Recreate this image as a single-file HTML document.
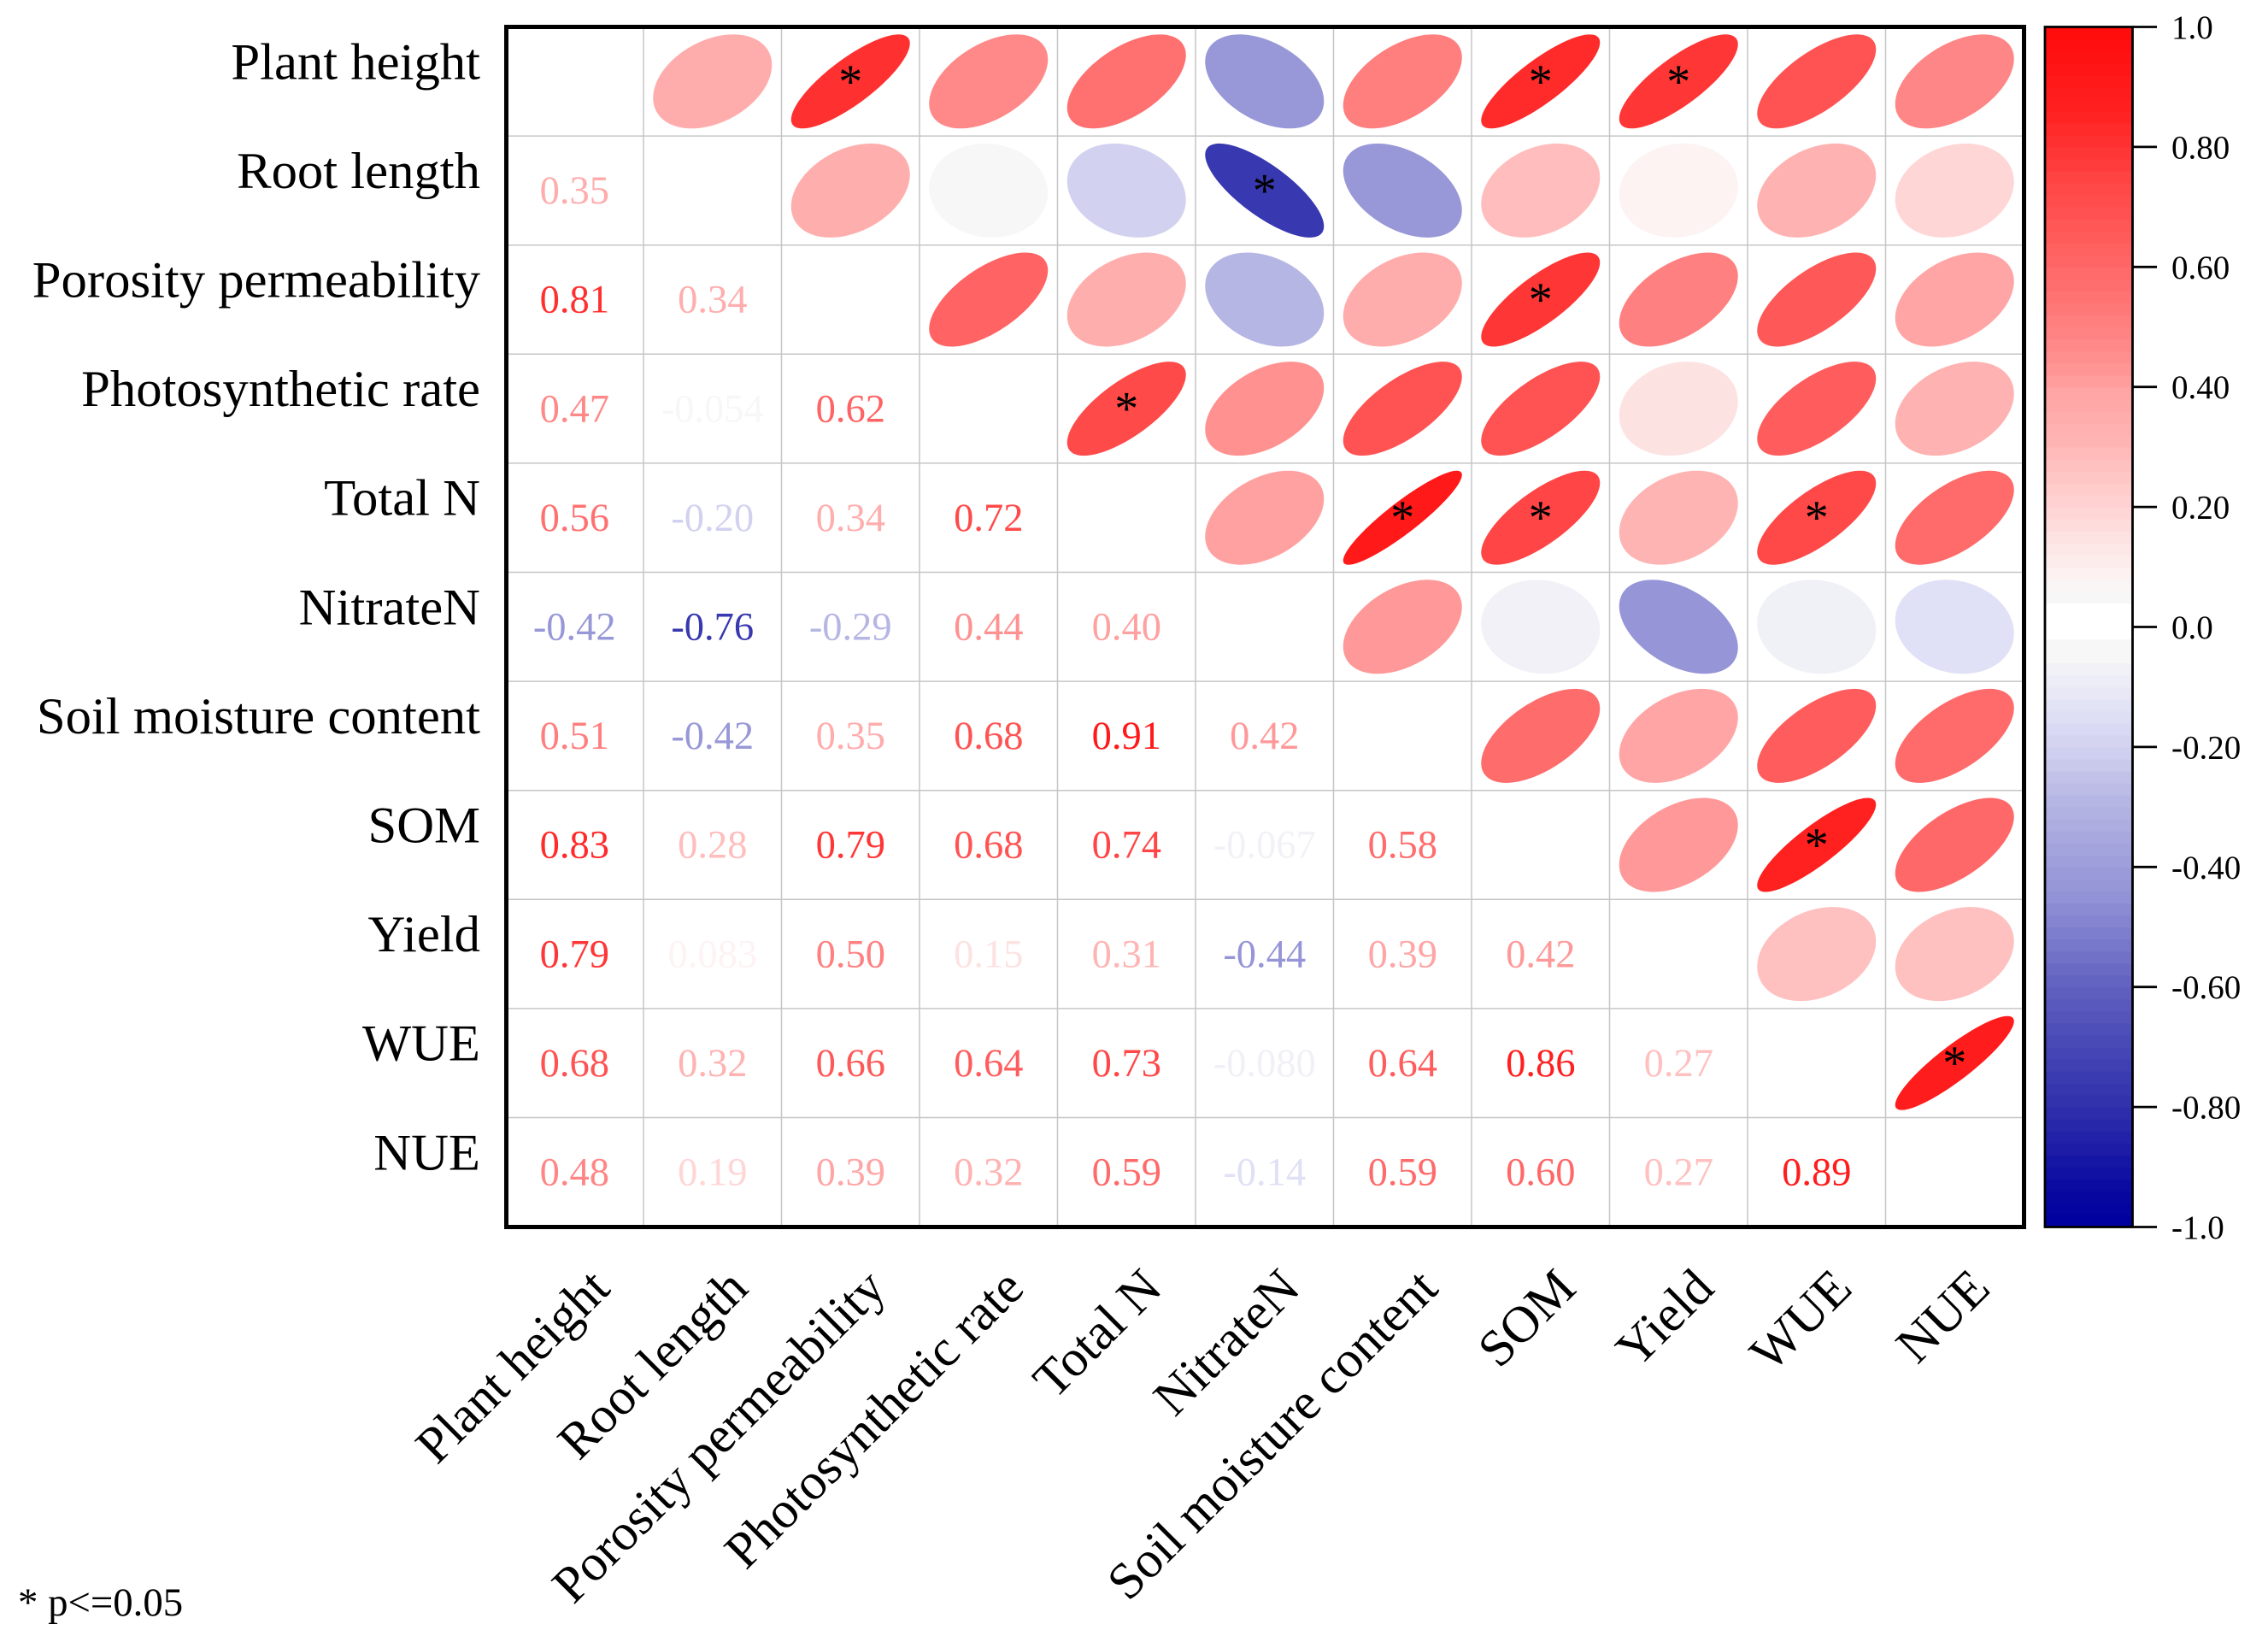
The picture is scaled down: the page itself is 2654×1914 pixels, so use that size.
<!DOCTYPE html>
<html lang="en">
<head>
<meta charset="utf-8">
<title>Correlation matrix</title>
<style>
html,body{margin:0;padding:0;background:#fff;}
svg{display:block;}
text{font-family:"Liberation Serif","Times New Roman",serif;}
</style>
</head>
<body>
<svg id="chart" xmlns="http://www.w3.org/2000/svg" width="2654" height="1914" viewBox="0 0 2654 1914">
  <rect x="0" y="0" width="2654" height="1914" fill="#ffffff"/>
  <g id="grid"></g>
  <g id="marks"></g>
  <rect id="frame" x="592.5" y="31.5" width="1776" height="1404" fill="none" stroke="#000" stroke-width="5"/>
  <g id="yLabels"></g>
  <g id="xLabels"></g>
  <g id="colorbar"></g>
  <text x="21" y="1890" font-size="46.8" fill="#000">* p&lt;=0.05</text>
</svg>
<script>
const categories = ["Plant height","Root length","Porosity permeability","Photosynthetic rate","Total N","NitrateN","Soil moisture content","SOM","Yield","WUE","NUE"];

const corrPlantHeight = [];
const corrRootLength = [0.35];
const corrPorosity = [0.81,0.34];
const corrPhotosynthetic = [0.47,-0.054,0.62];
const corrTotalN = [0.56,-0.20,0.34,0.72];
const corrNitrateN = [-0.42,-0.76,-0.29,0.44,0.40];
const corrSoilMoisture = [0.51,-0.42,0.35,0.68,0.91,0.42];
const corrSOM = [0.83,0.28,0.79,0.68,0.74,-0.067,0.58];
const corrYield = [0.79,0.083,0.50,0.15,0.31,-0.44,0.39,0.42];
const corrWUE = [0.68,0.32,0.66,0.64,0.73,-0.080,0.64,0.86,0.27];
const corrNUE = [0.48,0.19,0.39,0.32,0.59,-0.14,0.59,0.60,0.27,0.89];

// category index pairs (row, column) flagged p<=0.05
const significantPairs = [[0,2],[0,7],[0,8],[1,5],[2,7],[3,4],[4,6],[4,7],[4,9],[7,9],[9,10]];

const colorbarTickValues = [1,0.8,0.6,0.4,0.2,0,-0.2,-0.4,-0.6,-0.8,-1];
const colorbarTickLabels = ["1.0","0.80","0.60","0.40","0.20","0.0","-0.20","-0.40","-0.60","-0.80","-1.0"];

const correlationRows = [corrPlantHeight,corrRootLength,corrPorosity,corrPhotosynthetic,corrTotalN,corrNitrateN,corrSoilMoisture,corrSOM,corrYield,corrWUE,corrNUE];

const SVGNS = "http://www.w3.org/2000/svg";
function make(parent, tag, attrs, txt){
  const el = document.createElementNS(SVGNS, tag);
  for(const k in attrs){ el.setAttribute(k, attrs[k]); }
  if(txt !== undefined){ el.textContent = txt; }
  parent.appendChild(el);
  return el;
}
function slug(s){ return s.toLowerCase().replace(/[^a-z0-9]+/g,'-'); }

/* axis functions */
const X0 = 591.5, CW = 161.5, Y0 = 31.5, CH = 127.6;
const xEdge = i => X0 + CW*i;
const yEdge = j => Y0 + CH*j;
const xCenter = i => xEdge(i + 0.5);
const yCenter = j => yEdge(j + 0.5);
const CB_TOP = 31.5, CB_BOTTOM = 1435.5;
const cbY = v => CB_TOP + (1 - v)/2*(CB_BOTTOM - CB_TOP);

/* colour ramp */
const ramp = [
  [-1,0,0,160],[-0.94,8,8,160],[-0.8,48,48,172],[-0.76,56,56,176],[-0.6,96,96,192],[-0.44,149,149,216],[-0.42,152,152,216],
  [-0.29,182,182,228],[-0.2,210,210,240],[-0.14,224,224,246],[-0.08,240,240,247],[-0.067,241,241,247],
  [-0.055,247,247,247],[-0.03,247,247,247],[-0.028,255,255,255],
  [0.038,255,255,255],[0.04,247,247,247],[0.06,247,247,247],[0.083,253,243,243],[0.15,253,226,226],
  [0.19,255,214,214],[0.27,255,192,192],[0.31,255,180,180],[0.35,255,172,172],[0.39,255,165,165],
  [0.42,255,153,153],[0.44,255,145,145],[0.5,255,128,128],[0.58,255,108,108],[0.6,255,104,104],
  [0.66,255,88,88],[0.73,255,72,72],[0.81,255,48,48],[0.86,255,32,32],[0.89,255,28,28],[1,255,10,10]
];
function colorOf(v){
  const c = Math.max(-1, Math.min(1, v));
  for(let i = 1; i < ramp.length; i++){
    if(c <= ramp[i][0]){
      const a = ramp[i-1], b = ramp[i];
      const t = (c - a[0])/(b[0] - a[0]);
      const m = n => Math.round(a[n] + (b[n]-a[n])*t);
      return "rgb(" + m(1) + "," + m(2) + "," + m(3) + ")";
    }
  }
  return "rgb(255,10,10)";
}

/* ellipse outline for correlation r */
const RX = 69.5, RY = 55;
function ellipsePath(cx, cy, r){
  const d = Math.acos(Math.max(-1, Math.min(1, r)));
  let p = "";
  for(let k = 0; k < 96; k++){
    const t = k/96*2*Math.PI;
    const x = cx + RX*Math.cos(t + d/2);
    const y = cy - RY*Math.cos(t - d/2);
    p += (k ? "L" : "M") + x.toFixed(2) + " " + y.toFixed(2);
  }
  return p + "Z";
}

const gridG = document.getElementById("grid");
const marksG = document.getElementById("marks");
const yG = document.getElementById("yLabels");
const xG = document.getElementById("xLabels");
const cbG = document.getElementById("colorbar");
const n = categories.length;

/* grid */
for(let i = 1; i < n; i++){
  const v = make(gridG, "line", {x1:xEdge(i), x2:xEdge(i), y1:Y0, y2:yEdge(n), stroke:"#c6c6c6", "stroke-width":1.5});
  
  
  const h = make(gridG, "line", {x1:X0, x2:xEdge(n), y1:yEdge(i), y2:yEdge(i), stroke:"#c6c6c6", "stroke-width":1.5});
  
  
}

/* cells */
correlationRows.forEach(function(rowVals, row){
  rowVals.forEach(function(val, col){
    const label = make(marksG, "text", {
      x:xCenter(col), y:yCenter(row)+15.2, "text-anchor":"middle", "font-size":46.5, fill:colorOf(val)
    }, val.toPrecision(2));
    
    

    // the mirrored upper-triangle cell holds the ellipse
    const ell = make(marksG, "path", {d:ellipsePath(xCenter(row), yCenter(col), val), fill:colorOf(val)});
    
    
  });
});

/* significance stars */
significantPairs.forEach(function(pair){
  const star = make(marksG, "text", {
    x:xCenter(pair[1]), y:yCenter(pair[0])+18.5, "text-anchor":"middle", "font-size":56, fill:"#000"
  }, "*");
  
  
});

/* axis labels */
categories.forEach(function(name, i){
  const yl = make(yG, "text", {x:562, y:yCenter(i)-3, "text-anchor":"end", "font-size":60.7, fill:"#000"}, name);
  
  

  const ax = xCenter(i) + 44, ay = 1510;
  const xl = make(xG, "text", {x:ax, y:ay, "text-anchor":"end", "font-size":60.3, fill:"#000", transform:"rotate(-45 " + ax + " " + ay + ")"}, name);
  
  
});

/* colorbar */
const CB_L = 2393, CB_R = 2495.5, BAND = 0.02;
for(let k = 0; k < Math.round(2/BAND); k++){
  const lo = -1 + k*BAND, hi = lo + BAND;
  const band = make(cbG, "rect", {x:CB_L, width:CB_R-CB_L, y:cbY(hi), height:cbY(lo)-cbY(hi)+0.6, fill:colorOf((lo+hi)/2)});
  
  
}
const cbFrame = make(cbG, "rect", {x:CB_L, y:CB_TOP, width:CB_R-CB_L, height:CB_BOTTOM-CB_TOP, fill:"none", stroke:"#000", "stroke-width":2.8});


colorbarTickValues.forEach(function(v, i){
  const t = make(cbG, "line", {x1:CB_R, x2:2524, y1:cbY(v), y2:cbY(v), stroke:"#000", "stroke-width":2.8});
  
  
  const l = make(cbG, "text", {x:2541, y:cbY(v)+13.5, "font-size":39, fill:"#000"}, colorbarTickLabels[i]);
  
  
});
</script>
</body>
</html>
